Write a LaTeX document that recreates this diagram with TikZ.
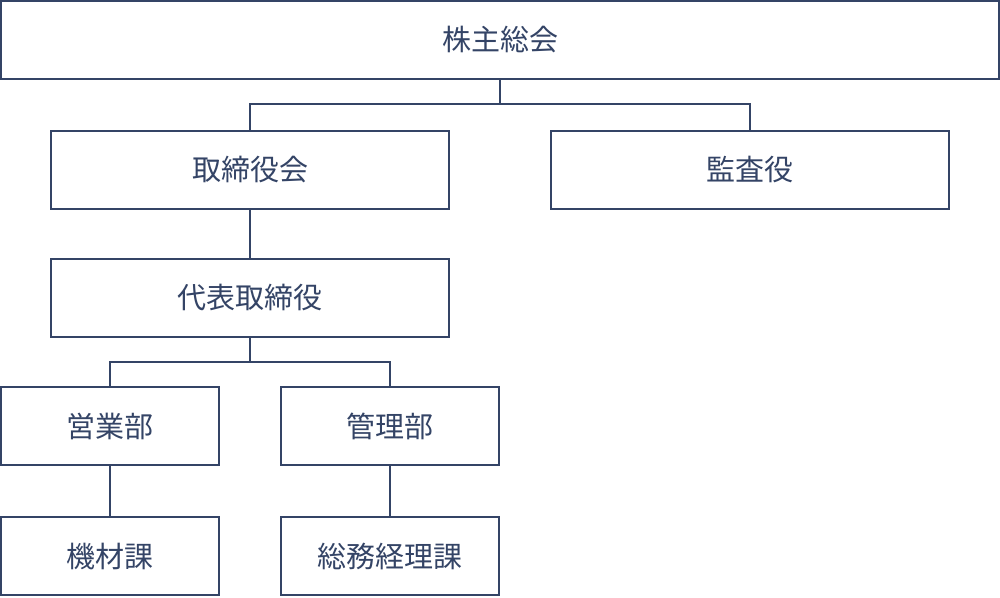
\documentclass[tikz,border=0pt]{standalone}
\usepackage{fontspec}
\newfontfamily\jp{Noto Sans CJK JP}
\definecolor{navy}{HTML}{344466}
\begin{document}
\begin{tikzpicture}[x=1pt,y=-1pt,
  box/.style={draw=navy,line width=2pt,fill=white,text=navy,font=\jp\fontsize{29}{33}\selectfont},
  conn/.style={draw=navy,line width=2pt}]
\useasboundingbox (0,0) rectangle (1000,597);
\node[box,minimum width=998pt,minimum height=78pt] (a) at (500,40) {株主総会};
\node[box,minimum width=398pt,minimum height=78pt] (b) at (250,169.5) {取締役会};
\node[box,minimum width=398pt,minimum height=78pt] (c) at (750,169.5) {監査役};
\node[box,minimum width=398pt,minimum height=78pt] (d) at (250,298) {代表取締役};
\node[box,minimum width=218pt,minimum height=78pt] (e) at (110,426) {営業部};
\node[box,minimum width=218pt,minimum height=78pt] (f) at (390,426) {管理部};
\node[box,minimum width=218pt,minimum height=78pt] (g) at (110,556) {機材課};
\node[box,minimum width=218pt,minimum height=78pt] (h) at (390,556) {総務経理課};
\coordinate (j1) at (500,104);
\coordinate (j2) at (250,362);
\draw[conn] (a.south) -- (j1);
\draw[conn] (b.north) |- (j1) -| (c.north);
\draw[conn] (b) -- (d);
\draw[conn] (d.south) -- (j2);
\draw[conn] (e.north) |- (j2) -| (f.north);
\draw[conn] (e) -- (g);
\draw[conn] (f) -- (h);
\end{tikzpicture}
\end{document}
